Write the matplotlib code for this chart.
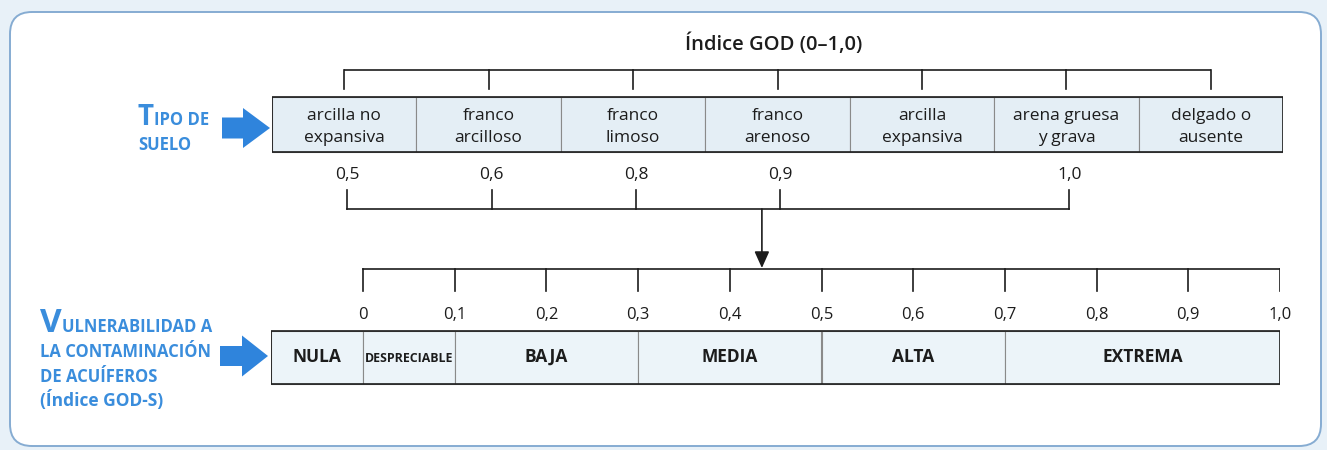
import matplotlib
matplotlib.use("Agg")
import matplotlib.pyplot as plt
from matplotlib.patches import FancyBboxPatch, FancyArrow

plt.rcParams['font.family'] = ['Open Sans', 'DejaVu Sans']

# ---------------- data ----------------
soil_types = ["arcilla no\nexpansiva", "franco\narcilloso", "franco\nlimoso",
              "franco\narenoso", "arcilla\nexpansiva", "arena gruesa\ny grava",
              "delgado o\nausente"]
god_labels = ["0,5", "0,6", "0,8", "0,9", "1,0"]
god_label_cells = [0, 1, 2, 3, 5]          # soil-type cell under which each value sits
vuln_classes = ["NULA", "DESPRECIABLE", "BAJA", "MEDIA", "ALTA", "EXTREMA"]
vuln_lower = [-0.1, 0.0, 0.1, 0.3, 0.5, 0.7]
vuln_upper = [0.0, 0.1, 0.3, 0.5, 0.7, 1.0]
scale_ticks = [0.0, 0.1, 0.2, 0.3, 0.4, 0.5, 0.6, 0.7, 0.8, 0.9, 1.0]
scale_labels = ["0", "0,1", "0,2", "0,3", "0,4", "0,5", "0,6", "0,7", "0,8", "0,9", "1,0"]
arrow_value = 0.435                          # where the GOD→GOD-S arrow lands
title = "Índice GOD (0–1,0)"

# ---------------- style ----------------
W, H = 1327, 450
INK = "#1c1c1c"
BLUE = "#3a8ddc"
ARROW_BLUE = "#2f84dc"
CELL = "#e4eef5"
BAR = "#ecf4f9"
LW = 1.2

fig = plt.figure(figsize=(W / 100, H / 100), dpi=100)
fig.patch.set_facecolor("#e8f1f8")

# main canvas axes (pixel-like units)
ax = fig.add_axes([0, 0, 1, 1])
ax.set_xlim(0, W)
ax.set_ylim(H, 0)
ax.axis("off")

frame = FancyBboxPatch((10, 12), 1311, 434, boxstyle="round,pad=0,rounding_size=22",
                       facecolor="white", edgecolor="#86acd2", linewidth=1.4, zorder=0)
ax.add_patch(frame)

# ---------------- top: soil types (categorical axis) ----------------
axt = fig.add_axes([272 / W, 0, 1011 / W, 1])
axt.set_xlim(0, len(soil_types))
axt.set_ylim(H, 0)
axt.axis("off")
axt.patch.set_alpha(0)

idx = list(range(len(soil_types)))
centers = [i + 0.5 for i in idx]
axt.bar(centers, [55] * len(idx), width=1.0, bottom=97, color=CELL,
        edgecolor="#8a8a8a", linewidth=0.8, zorder=2)
axt.add_patch(plt.Rectangle((0, 97), len(idx), 55, fill=False, edgecolor=INK,
                            linewidth=LW, zorder=3))
for c, s in zip(centers, soil_types):
    axt.text(c, 127, s, ha="center", va="center", fontsize=12.5, color=INK,
             linespacing=1.5, zorder=4)

# upper bracket
axt.plot([centers[0], centers[-1]], [70, 70], color=INK, lw=LW, solid_capstyle="butt")
for c in centers:
    axt.plot([c, c], [70, 89], color=INK, lw=LW)

axt.text(len(idx) / 2 - 0.03, 44, title, ha="center", va="center", fontsize=14.5,
         fontweight="semibold", color=INK)

# GOD values
gx = [centers[i] + 0.02 for i in god_label_cells]
for x, lab in zip(gx, god_labels):
    axt.text(x, 179, lab, ha="center", va="baseline", fontsize=12.5, color=INK)

# lower bracket
axt.plot([gx[0], gx[-1]], [209, 209], color=INK, lw=LW)
for x in gx:
    axt.plot([x, x], [190, 209], color=INK, lw=LW)

# ---------------- bottom: GOD-S scale ----------------
x0, x1 = 363, 1280
step = (x1 - x0)
axb = fig.add_axes([(x0 - 0.1 * step) / W, 0, 1.1 * step / W, 1])
axb.set_xlim(-0.1, 1.0)
axb.set_ylim(H, 0)
axb.axis("off")
axb.patch.set_alpha(0)

widths = [u - l for l, u in zip(vuln_lower, vuln_upper)]
axb.barh([357] * len(widths), widths, left=vuln_lower, height=53, color=BAR,
         edgecolor="#8a8a8a", linewidth=0.8, zorder=2)
axb.add_patch(plt.Rectangle((vuln_lower[0], 330.5), vuln_upper[-1] - vuln_lower[0], 53,
                            fill=False, edgecolor=INK, linewidth=LW, zorder=3))
for l, u, name in zip(vuln_lower, vuln_upper, vuln_classes):
    fs = 8.9 if len(name) > 8 else 12.5
    axb.text((l + u) / 2, 362, name, ha="center", va="baseline", fontsize=fs,
             fontweight="bold", color=INK, zorder=4)

axb.plot([scale_ticks[0], scale_ticks[-1]], [269, 269], color=INK, lw=LW)
for t, lab in zip(scale_ticks, scale_labels):
    axb.plot([t, t], [269, 291], color=INK, lw=LW)
    axb.text(t, 319, lab, ha="center", va="baseline", fontsize=12, color=INK)

# arrow from GOD bracket to GOD-S scale
axb.annotate("", xy=(arrow_value, 268), xytext=(arrow_value, 209),
             arrowprops=dict(arrowstyle="-|>,head_length=1.0,head_width=0.45",
                             color=INK, lw=LW, shrinkA=0, shrinkB=0))

# ---------------- left labels ----------------
fig.canvas.draw()
rend = fig.canvas.get_renderer()


def smallcaps(x, y, big, rest, big_fs, small_fs):
    t = ax.text(x, y, big, ha="left", va="baseline", fontsize=big_fs,
                fontweight="bold", color=BLUE)
    bb = t.get_window_extent(rend)
    ax.text(bb.x1 + 0.5, y, rest, ha="left", va="baseline", fontsize=small_fs,
            fontweight="bold", color=BLUE)


smallcaps(138, 125, "T", "IPO DE", 20, 12)
ax.text(138, 150, "SUELO", ha="left", va="baseline", fontsize=12,
        fontweight="bold", color=BLUE)

smallcaps(40, 332, "V", "ULNERABILIDAD A", 24, 12)
ax.text(40, 357, "LA CONTAMINACIÓN", ha="left", va="baseline", fontsize=12,
        fontweight="bold", color=BLUE)
ax.text(40, 382, "DE ACUÍFEROS", ha="left", va="baseline", fontsize=12,
        fontweight="bold", color=BLUE)
ax.text(40, 406, "(Índice GOD-S)", ha="left", va="baseline", fontsize=12.5,
        fontweight="bold", color=BLUE)

# blue block arrows
ax.add_patch(FancyArrow(222, 128, 48, 0, width=21, head_width=40, head_length=27,
                        length_includes_head=True, color=ARROW_BLUE, lw=0))
ax.add_patch(FancyArrow(220, 356, 48, 0, width=20, head_width=41, head_length=26,
                        length_includes_head=True, color=ARROW_BLUE, lw=0))

fig.savefig("out.png", dpi=100, facecolor=fig.get_facecolor())
